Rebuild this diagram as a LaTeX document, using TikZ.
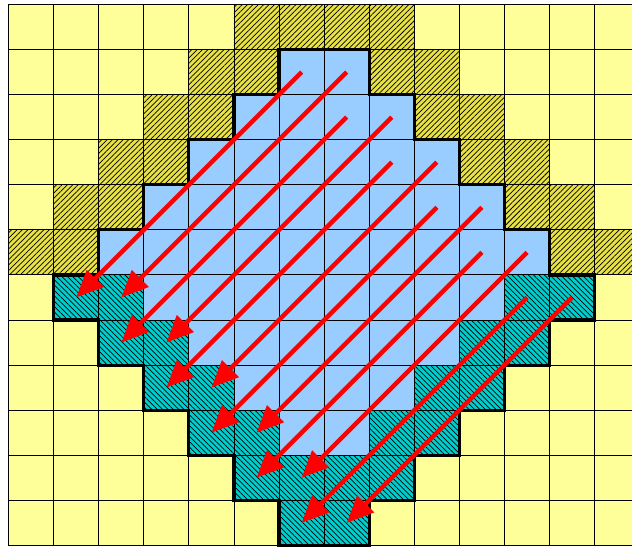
\documentclass[tikz,border=0pt]{standalone}
\usetikzlibrary{matrix, patterns.meta, arrows.meta}
\definecolor{paleyellow}{RGB}{255,255,153}
\definecolor{coreblue}{RGB}{153,204,255}
\definecolor{upyellow}{RGB}{232,226,70}
\definecolor{downteal}{RGB}{0,206,206}
\begin{document}
\begin{tikzpicture}[
    hatchup/.style={preaction={fill=upyellow}, pattern={Lines[angle=45, distance=2.4pt, line width=0.45pt]}, pattern color=black},
    hatchdown/.style={preaction={fill=downteal}, pattern={Lines[angle=-45, distance=2.4pt, line width=0.45pt]}, pattern color=black},
    core/.style={fill=coreblue},
    rim/.style={draw=black, line width=2pt, line join=miter},
    sweep/.style={draw=red, line width=2.8pt, -{Triangle[length=17pt, width=14.5pt]}}]
  \useasboundingbox (-0.18,-0.045) rectangle (13.84,12.11);
  \matrix (grid) [matrix of nodes, nodes in empty cells, ampersand replacement=\&,
          anchor=south west, inner sep=0pt, outer sep=0pt,
          nodes={draw=black, line width=0.6pt, fill=paleyellow, minimum size=1cm,
                 inner sep=0pt, outer sep=0pt},
          row sep=-0.6pt, column sep=-0.6pt] at (0,0) {
     \& \& \& \& \& |[hatchup]| \& |[hatchup]| \& |[hatchup]| \& |[hatchup]| \& \& \& \& \& \\
     \& \& \& \& |[hatchup]| \& |[hatchup]| \& |[core]| \& |[core]| \& |[hatchup]| \& |[hatchup]| \& \& \& \& \\
     \& \& \& |[hatchup]| \& |[hatchup]| \& |[core]| \& |[core]| \& |[core]| \& |[core]| \& |[hatchup]| \& |[hatchup]| \& \& \& \\
     \& \& |[hatchup]| \& |[hatchup]| \& |[core]| \& |[core]| \& |[core]| \& |[core]| \& |[core]| \& |[core]| \& |[hatchup]| \& |[hatchup]| \& \& \\
     \& |[hatchup]| \& |[hatchup]| \& |[core]| \& |[core]| \& |[core]| \& |[core]| \& |[core]| \& |[core]| \& |[core]| \& |[core]| \& |[hatchup]| \& |[hatchup]| \& \\
    |[hatchup]| \& |[hatchup]| \& |[core]| \& |[core]| \& |[core]| \& |[core]| \& |[core]| \& |[core]| \& |[core]| \& |[core]| \& |[core]| \& |[core]| \& |[hatchup]| \& |[hatchup]| \\
     \& |[hatchdown]| \& |[hatchdown]| \& |[core]| \& |[core]| \& |[core]| \& |[core]| \& |[core]| \& |[core]| \& |[core]| \& |[core]| \& |[hatchdown]| \& |[hatchdown]| \& \\
     \& \& |[hatchdown]| \& |[hatchdown]| \& |[core]| \& |[core]| \& |[core]| \& |[core]| \& |[core]| \& |[core]| \& |[hatchdown]| \& |[hatchdown]| \& \& \\
     \& \& \& |[hatchdown]| \& |[hatchdown]| \& |[core]| \& |[core]| \& |[core]| \& |[core]| \& |[hatchdown]| \& |[hatchdown]| \& \& \& \\
     \& \& \& \& |[hatchdown]| \& |[hatchdown]| \& |[core]| \& |[core]| \& |[hatchdown]| \& |[hatchdown]| \& \& \& \& \\
     \& \& \& \& \& |[hatchdown]| \& |[hatchdown]| \& |[hatchdown]| \& |[hatchdown]| \& \& \& \& \& \\
     \& \& \& \& \& \& |[hatchdown]| \& |[hatchdown]| \& \& \& \& \& \& \\
  };
  \draw[rim] (grid-2-7.north west) -- (grid-2-8.north east)
    |- (grid-3-9.north east) |- (grid-4-10.north east) |- (grid-5-11.north east)
    |- (grid-6-12.north east) |- (grid-7-13.north east) -- (grid-7-13.south east)
    -| (grid-8-12.south east) -| (grid-9-11.south east) -| (grid-10-10.south east)
    -| (grid-11-9.south east) -| (grid-12-8.south east) -- (grid-12-7.south west)
    |- (grid-11-6.south west) |- (grid-10-5.south west) |- (grid-9-4.south west)
    |- (grid-8-3.south west) |- (grid-7-2.south west) -- (grid-7-2.north west)
    -| (grid-6-3.north west) -| (grid-5-4.north west) -| (grid-4-5.north west)
    -| (grid-3-6.north west) -| (grid-2-7.north west) -- cycle;
  \draw[sweep] (grid-2-7.center) -- (grid-7-2.center);
  \draw[sweep] (grid-2-8.center) -- (grid-7-3.center);
  \draw[sweep] (grid-3-8.center) -- (grid-8-3.center);
  \draw[sweep] (grid-3-9.center) -- (grid-8-4.center);
  \draw[sweep] (grid-4-9.center) -- (grid-9-4.center);
  \draw[sweep] (grid-4-10.center) -- (grid-9-5.center);
  \draw[sweep] (grid-5-10.center) -- (grid-10-5.center);
  \draw[sweep] (grid-5-11.center) -- (grid-10-6.center);
  \draw[sweep] (grid-6-11.center) -- (grid-11-6.center);
  \draw[sweep] (grid-6-12.center) -- (grid-11-7.center);
  \draw[sweep] (grid-7-12.center) -- (grid-12-7.center);
  \draw[sweep] (grid-7-13.center) -- (grid-12-8.center);
\end{tikzpicture}
\end{document}
